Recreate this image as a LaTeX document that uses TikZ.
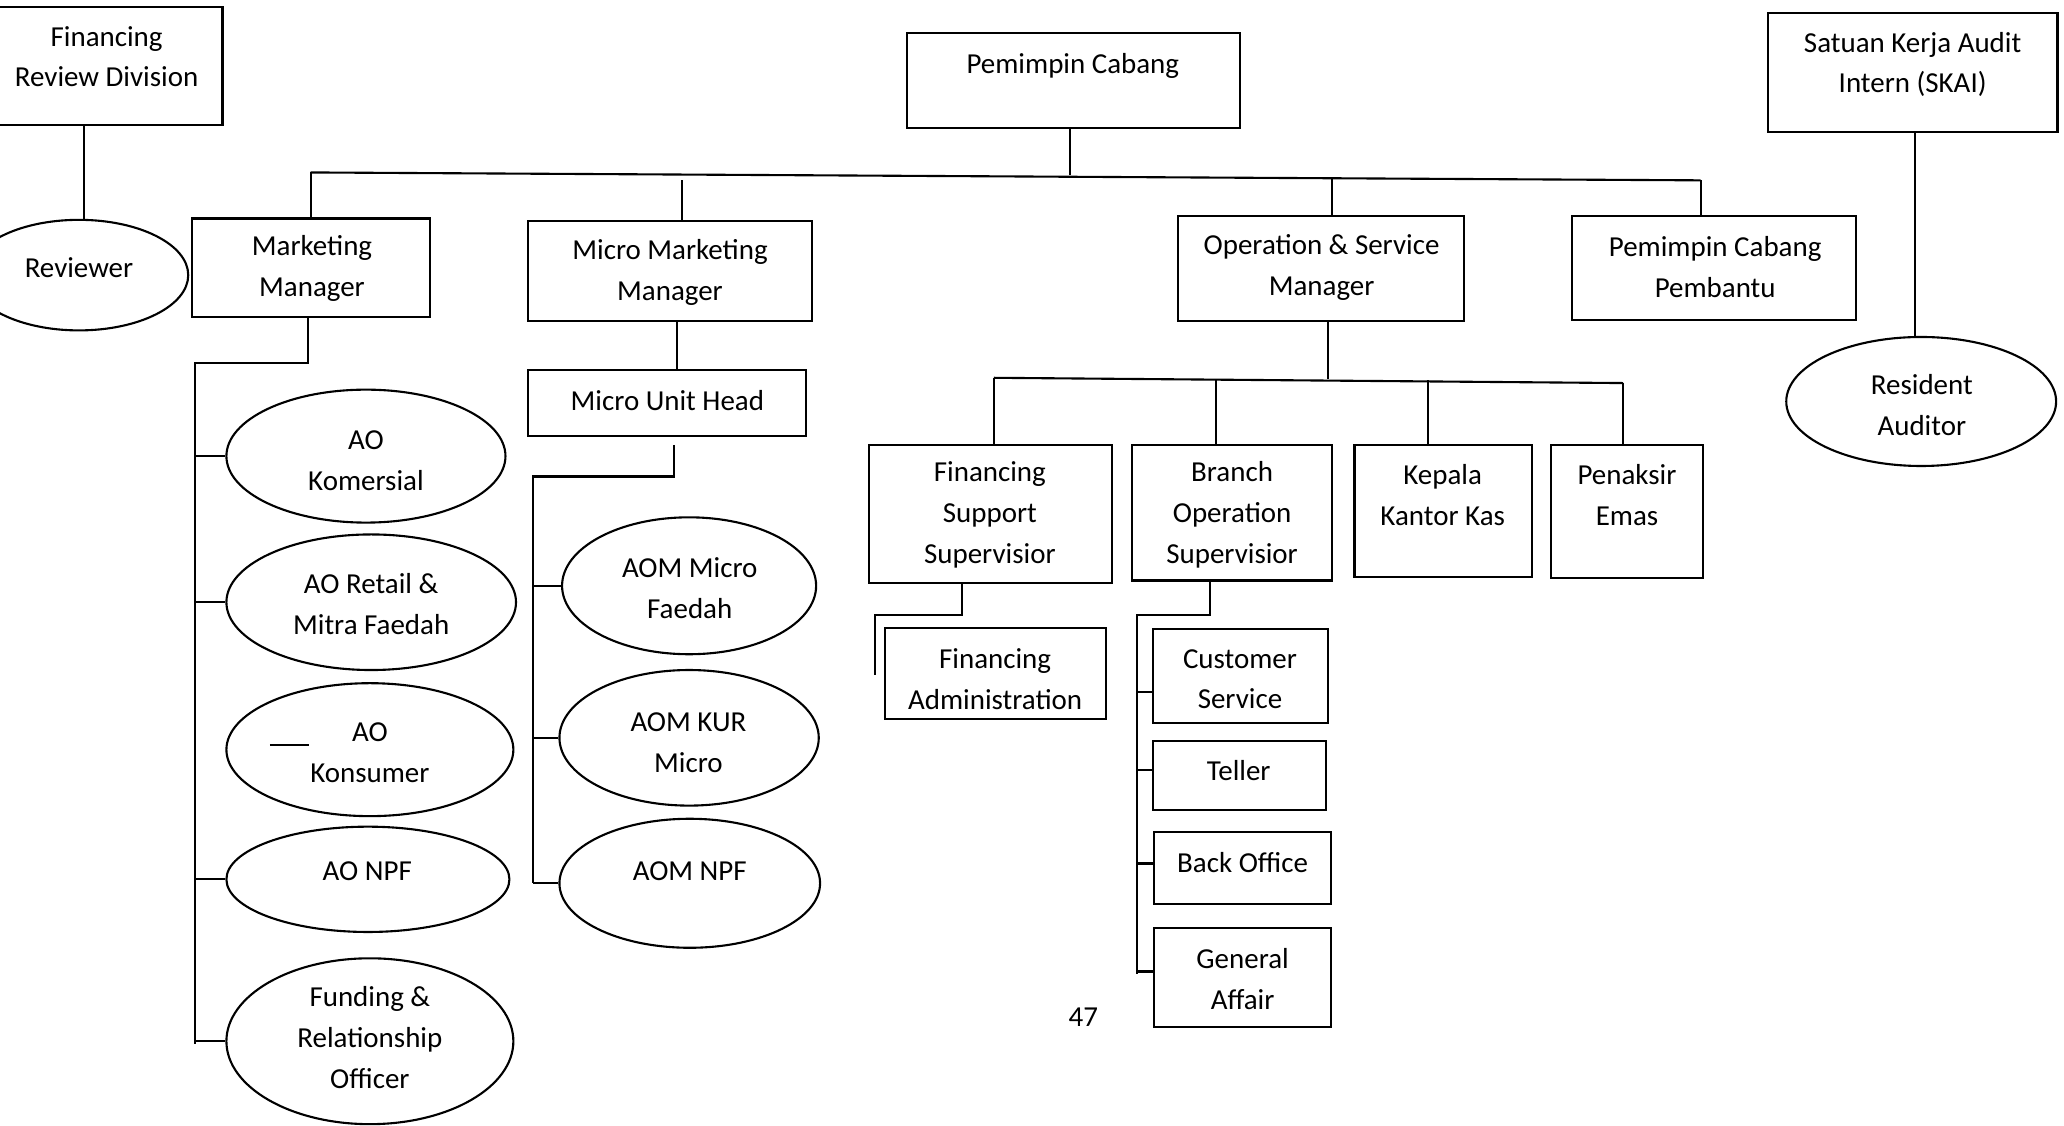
\documentclass[tikz,border=0pt]{standalone}
\usepackage{fontspec}
\setmainfont{Carlito}
\usetikzlibrary{shapes.geometric}
\tikzset{
  rbox/.style={draw, line width=1.6pt, inner sep=0pt, rectangle},
  ebox/.style={draw, line width=1.6pt, inner sep=0pt, ellipse},
  lbl/.style={inner sep=0pt, align=center, font=\fontsize{22}{31}\selectfont},
  conn/.style={line width=1.6pt},
}
\newcommand\obox[8]{%
  \node[rbox, minimum width={(#4)-(#2)}, minimum height={(#5)-(#3)}] (#1) at ({((#2)+(#4))/2},{((#3)+(#5))/2}) {};
  \node[lbl] (#1-t) at (#6,#7) {#8};}
\newcommand\oell[8]{%
  \node[ebox, minimum width={(#4)-(#2)}, minimum height={(#5)-(#3)}] (#1) at ({((#2)+(#4))/2},{((#3)+(#5))/2}) {};
  \node[lbl] (#1-t) at (#6,#7) {#8};}
\begin{document}
\begin{tikzpicture}[x=1pt,y=-1pt]
\useasboundingbox (0,0) rectangle (1568,855);

% top level
\obox{frd}{-5}{5}{169}{95}{81}{43}{Financing\\Review Division}
\oell{rev}{-23}{167}{143}{251}{60}{203}{Reviewer}
\obox{pc}{689}{25}{942}{97}{815}{50}{Pemimpin Cabang}
\obox{skai}{1343}{10}{1563}{100}{1453}{49}{Satuan Kerja Audit\\Intern (SKAI)}
\oell{ra}{1357}{256}{1562}{354}{1460}{308}{Resident\\Auditor}
\obox{mm}{146}{166}{327}{241}{237}{204}{Marketing\\Manager}
\obox{mmm}{401}{168}{617}{244}{509}{207}{Micro Marketing\\Manager}
\obox{osm}{895}{164}{1112}{244}{1004}{203}{Operation \& Service\\Manager}
\obox{pcp}{1194}{164}{1410}{243}{1303}{203}{Pemimpin Cabang\\Pembantu}
\obox{muh}{401}{281}{612}{331}{507}{304}{Micro Unit Head}

% marketing ellipses
\oell{ako}{172}{296}{384}{397}{278}{350}{AO\\Komersial}
\oell{aor}{172}{406}{392}{509}{282}{459}{AO Retail \&\\Mitra Faedah}
\oell{aok}{172}{519}{390}{620}{281}{572}{AO\\Konsumer}
\oell{aon}{172}{628}{387}{708}{279}{662}{AO NPF}
\oell{fro}{172}{728}{390}{854}{281}{788}{Funding \&\\Relationship\\Officer}

% micro ellipses
\oell{amf}{427}{393}{620}{497}{524}{447}{AOM Micro\\Faedah}
\oell{akur}{425}{509}{622}{612}{523}{564}{AOM KUR\\Micro}
\oell{anpf}{425}{622}{623}{720}{524}{662}{AOM NPF}

% operations
\obox{fss}{660}{338}{845}{443}{752}{391}{Financing\\Support\\Supervisior}
\obox{bos}{860}{338}{1012}{441}{936}{391}{Branch\\Operation\\Supervisior}
\obox{kkk}{1029}{338}{1164}{438}{1096}{376}{Kepala\\Kantor Kas}
\obox{pe}{1178}{338}{1294}{439}{1236}{376}{Penaksir\\Emas}
\obox{fa}{672}{477}{840}{546}{756}{516}{Financing\\Administration}
\obox{cs}{876}{478}{1009}{549}{942}{516}{Customer\\Service}
\obox{tel}{876}{563}{1007}{615}{941}{585}{Teller}
\obox{bo}{877}{632}{1011}{687}{944}{655}{Back Office}
\obox{ga}{877}{705}{1011}{780}{944}{744}{General\\Affair}
\node[lbl] (pg) at (823,773) {47};

% main bus
\coordinate (b1) at (236,131);
\coordinate (b2) at (1292,137);
\draw[conn] (b1) -- (b2);
\coordinate (pcj) at (813,133);
\draw[conn] (pc.south -| pcj) -- (pcj);
\draw[conn] (b1) -- (mm.north -| b1);
\coordinate (mmmj) at (518,137);
\draw[conn] (mmmj) -- (mmm.north -| mmmj);
\coordinate (osmj) at (1012,136);
\draw[conn] (osmj) -- (osm.north -| osmj);
\draw[conn] (b2) -- (pcp.north -| b2);

% side units
\coordinate (frdj) at (64,100);
\draw[conn] (frd.south -| frdj) -- (rev.north -| frdj);
\coordinate (skaij) at (1455,100);
\draw[conn] (skai.south -| skaij) -- (ra.north -| skaij);

% marketing tree
\coordinate (mmj) at (234,0);
\coordinate (mvt) at (148,276);
\coordinate (mvb) at (148,793);
\draw[conn] (mm.south -| mmj) |- (mvt) -- (mvb);
\foreach \n in {ako,aor,aon,fro}
  \draw[conn] (mvt |- \n.west) -- (\n.west);
\coordinate (sk1) at (205,566);
\coordinate (sk2) at (235,566);
\draw[conn] (sk1) -- (sk2);

% micro tree
\coordinate (mmmb) at (514,0);
\draw[conn] (mmm.south -| mmmb) -- (muh.north -| mmmb);
\coordinate (muhj) at (512,338);
\coordinate (mv2t) at (405,362);
\coordinate (mv2b) at (405,671);
\draw[conn] (muhj) |- (mv2t) -- (mv2b);
\foreach \n in {amf,akur,anpf}
  \draw[conn] (mv2t |- \n.west) -- (\n.west);

% operations tree
\coordinate (osmb) at (1009,288);
\draw[conn] (osm.south -| osmb) -- (osmb);
\coordinate (ob1) at (755,287);
\coordinate (ob2) at (1233,291);
\draw[conn] (ob1) -- (ob2);
\draw[conn] (ob1) -- (fss.north -| ob1);
\coordinate (ob3) at (924,288);
\draw[conn] (ob3) -- (bos.north -| ob3);
\coordinate (ob4) at (1085,289);
\draw[conn] (ob4) -- (kkk.north -| ob4);
\draw[conn] (ob2) -- (pe.north -| ob2);

\coordinate (fssj) at (731,0);
\coordinate (fvt) at (665,467);
\coordinate (fvb) at (665,513);
\draw[conn] (fss.south -| fssj) |- (fvt) -- (fvb);

\coordinate (bosj) at (919,0);
\coordinate (bvt) at (864,467);
\coordinate (bvb) at (864,740);
\draw[conn] (bos.south -| bosj) |- (bvt) -- (bvb);
\foreach \n/\yy in {cs/526,tel/585,bo/656,ga/738}{
  \coordinate (t\n) at (0,\yy);
  \draw[conn] (bvt |- t\n) -- (\n.west |- t\n);
}
\end{tikzpicture}
\end{document}
